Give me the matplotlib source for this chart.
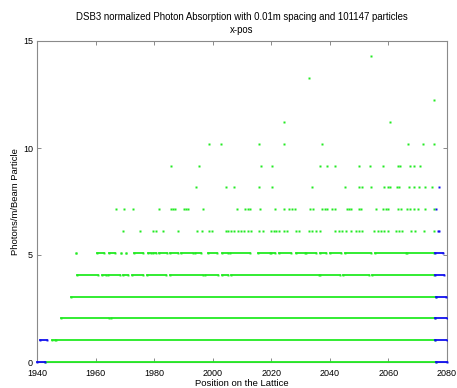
import matplotlib
matplotlib.use("Agg")
import matplotlib.pyplot as plt

plt.rcParams["font.family"] = ["Liberation Sans", "DejaVu Sans"]

# Photon levels (photons per metre per beam particle)
levels = [0.0, 1.02, 2.04, 3.06, 4.08, 5.1, 6.12, 7.14, 8.16, 9.18, 10.2, 11.22, 12.24, 13.26, 14.28]

# Dense levels: continuous runs of lattice positions (start, end)
runs_green = {
    0.0: [(1942.6, 2076.2)],
    1.02: [(1945.0, 1946.0), (1946.5, 2076.0)],
    2.04: [(1948.2, 1964.6), (1965.2, 2076.0)],
    3.06: [(1951.7, 2076.1)],
    4.08: [(1953.7, 1960.9), (1962.2, 1963.5), (1964.4, 1968.2), (1969.2, 1971.2),
           (1972.6, 1976.3), (1977.4, 1984.0), (1985.4, 1996.8), (1997.3, 2001.9),
           (2003.0, 2005.3), (2006.4, 2036.2), (2036.7, 2043.3), (2044.4, 2053.4),
           (2054.3, 2075.6)],
    5.1: [(1953.4, 1953.4), (1960.5, 1962.8), (1964.5, 1966.7), (1968.7, 1968.7),
          (1970.5, 1970.5), (1973.2, 1976.1), (1978.0, 1978.8), (1979.7, 1980.6),
          (1981.7, 1984.3), (1985.4, 1988.2), (1989.3, 1993.1), (1993.9, 1996.0),
          (1998.5, 2001.3), (2003.0, 2005.3), (2005.9, 2012.6), (2015.4, 2019.4),
          (2020.0, 2021.1), (2022.8, 2026.8), (2028.3, 2031.4), (2031.9, 2035.1),
          (2036.8, 2038.7), (2040.1, 2043.9), (2045.0, 2054.0), (2055.5, 2066.0),
          (2066.5, 2075.6)],
}
runs_blue = {
    0.0: [(1940.0, 1942.6), (2076.2, 2080.0)],
    1.02: [(1941.0, 1943.3), (2076.0, 2080.0)],
    2.04: [(2076.0, 2080.0)],
    3.06: [(2076.1, 2079.8)],
    4.08: [(2075.8, 2079.0)],
    5.1: [(2076.0, 2078.7)],
}

# Sparse levels: individual lattice positions
points_green = {
    6.12: [1969.2, 1975.3, 1979.7, 1980.6, 1982.9, 1988.0, 1994.8, 1996.3, 1998.8, 1999.7,
           2004.6, 2005.3, 2006.2, 2007.3, 2008.5, 2009.6, 2010.8, 2012.2, 2013.1, 2015.7,
           2017.1, 2020.0, 2020.9, 2021.7, 2022.6, 2024.5, 2025.4, 2028.5, 2029.6, 2032.8,
           2033.9, 2035.1, 2036.8, 2041.9, 2043.0, 2044.1, 2045.5, 2047.2, 2048.9, 2050.0,
           2050.9, 2055.1, 2056.3, 2057.4, 2058.5, 2059.7, 2062.5, 2063.6, 2064.8, 2067.6,
           2069.1, 2072.0, 2075.6],
    7.14: [1966.9, 1969.7, 1972.8, 1981.6, 1985.7, 1986.5, 1987.1, 1990.1, 1990.9, 1991.6,
           1996.8, 2008.2, 2011.0, 2011.9, 2012.6, 2016.2, 2021.3, 2024.2, 2026.2, 2027.0,
           2028.2, 2033.2, 2034.3, 2037.3, 2038.2, 2039.1, 2040.8, 2041.6, 2045.7, 2046.6,
           2047.2, 2049.8, 2050.6, 2055.7, 2058.2, 2059.1, 2059.9, 2063.4, 2064.2, 2066.2,
           2067.4, 2068.8, 2070.1, 2072.5, 2075.4],
    8.16: [1994.3, 2004.7, 2007.2, 2015.7, 2020.2, 2034.0, 2045.1, 2049.8, 2050.9, 2054.1,
           2058.5, 2059.7, 2060.6, 2062.8, 2063.6, 2066.9, 2068.6, 2070.5, 2072.4, 2074.9],
    9.18: [1985.7, 1995.4, 2016.6, 2020.3, 2036.8, 2038.9, 2041.6, 2049.8, 2053.8, 2058.3,
           2063.1, 2063.9, 2067.3, 2068.6, 2070.8],
    10.2: [1998.7, 2002.8, 2015.8, 2024.2, 2037.2, 2066.6, 2071.8, 2075.7],
    11.22: [2024.5, 2060.5],
    12.24: [2075.5],
    13.26: [2032.8],
    14.28: [2054.0],
}
points_blue = {
    6.12: [2076.8, 2077.3],
    7.14: [2076.2],
    8.16: [2077.1],
}

x_ticks = [1940, 1960, 1980, 2000, 2020, 2040, 2060, 2080]
y_ticks = [0, 5, 10, 15]

GREEN = "#22ea22"
BLUE = "#1010ee"

fig = plt.figure(figsize=(4.57, 3.88), dpi=100)
ax = fig.add_axes([37 / 457, 26 / 388, 410 / 457, 321 / 388])


def draw_runs(runs, color):
    for y, segs in runs.items():
        for s, e in segs:
            ax.plot([s, e], [y, y], color=color, lw=1.3, solid_capstyle="projecting",
                    marker="s", ms=1.4, mec="none", clip_on=(y != 0.0), zorder=3)


def draw_points(points, color):
    for y, xs in points.items():
        ax.plot(xs, [y] * len(xs), linestyle="none", marker="s", ms=1.5,
                color=color, mec="none", zorder=3)


draw_runs(runs_green, GREEN)
draw_runs(runs_blue, BLUE)
draw_points(points_green, GREEN)
draw_points(points_blue, BLUE)

ax.set_xlim(1940, 2080)
ax.set_ylim(0, 15)
ax.set_xticks(x_ticks)
ax.set_yticks(y_ticks)
ax.tick_params(direction="in", length=3, width=0.6, color="#777777", top=True, right=True,
               labelsize=6.5)
ax.tick_params(axis="x", pad=5)
ax.tick_params(axis="y", pad=3)
for sp in ax.spines.values():
    sp.set_color("#8a8a8a")
    sp.set_linewidth(0.8)

ax.set_title("DSB3 normalized Photon Absorption with 0.01m spacing and 101147 particles\nx-pos",
             fontsize=6.9, linespacing=1.3, pad=6)
ax.set_xlabel("Position on the Lattice", fontsize=6.8, labelpad=1)
ax.set_ylabel("Photons/m/Beam Particle", fontsize=6.8, labelpad=2)

fig.savefig("out.png", dpi=100)
